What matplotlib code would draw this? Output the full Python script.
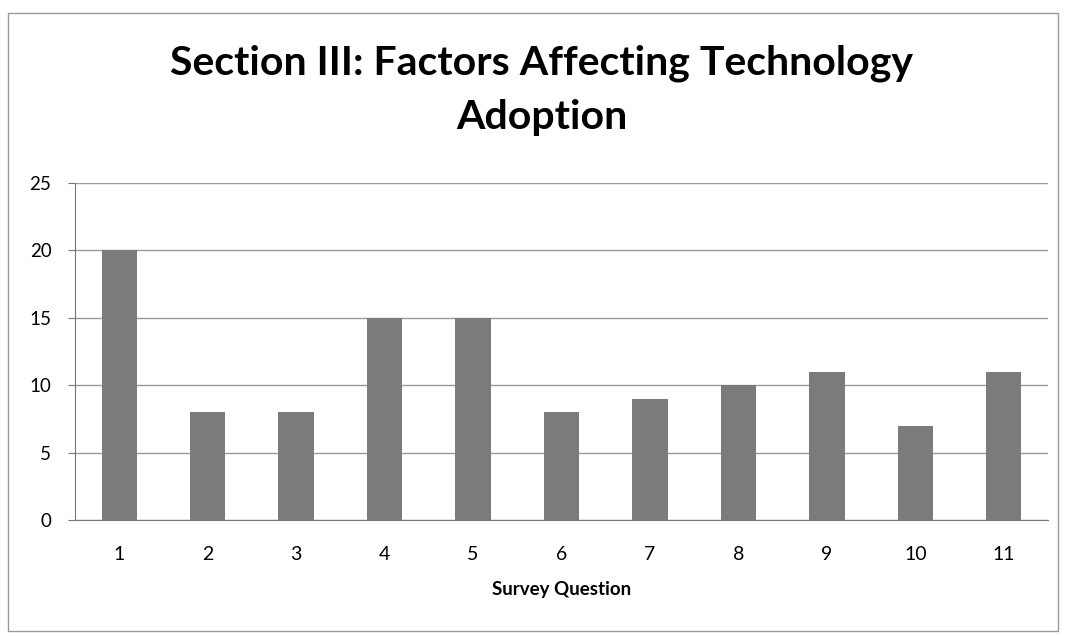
import matplotlib
matplotlib.use('Agg')
import matplotlib.pyplot as plt
import numpy as np
from matplotlib.patches import Rectangle

plt.rcParams['font.family'] = ['Lato', 'DejaVu Sans']

# survey questions and response counts
questions = ['1', '2', '3', '4', '5', '6', '7', '8', '9', '10', '11']
counts = [20, 8, 8, 15, 15, 8, 9, 10, 11, 7, 11]
yticks = [0, 5, 10, 15, 20, 25]

fig = plt.figure(figsize=(10.66, 6.37), dpi=100)
ax = fig.add_axes([75 / 1066, 1 - 520 / 637, (1048 - 75) / 1066, (520 - 183) / 637])

x = np.arange(len(questions))
ax.bar(x, counts, width=0.4, color='#7b7b7b', zorder=3)

ax.set_xlim(-0.5, len(questions) - 0.5)
ax.set_ylim(0, 25)
ax.set_yticks(yticks)
ax.set_xticks(x)
ax.set_xticklabels(questions)
ax.yaxis.grid(True, color='#9a9a9a', linewidth=1.0, zorder=0)
ax.tick_params(axis='y', length=5, color='#777777', labelsize=13.5, pad=12)
ax.tick_params(axis='x', length=0, labelsize=14, pad=19)

for side in ['top', 'right']:
    ax.spines[side].set_visible(False)
for side in ['left', 'bottom']:
    ax.spines[side].set_color('#777777')

ax.set_xlabel('Survey Question', fontsize=13.5, fontweight='bold', labelpad=13)

fig.text(0.508, 1 - 63 / 637, 'Section III: Factors Affecting Technology',
         ha='center', va='center', fontsize=29.5, fontweight='bold')
fig.text(0.508, 1 - 118 / 637, 'Adoption',
         ha='center', va='center', fontsize=29.5, fontweight='bold')

# outer chart border
fig.patches.append(Rectangle((8 / 1066, 6 / 637), 1050 / 1066, 618 / 637,
                             transform=fig.transFigure, fill=False,
                             edgecolor='#9a9a9a', linewidth=1.0))

fig.savefig('out.png', dpi=100)
